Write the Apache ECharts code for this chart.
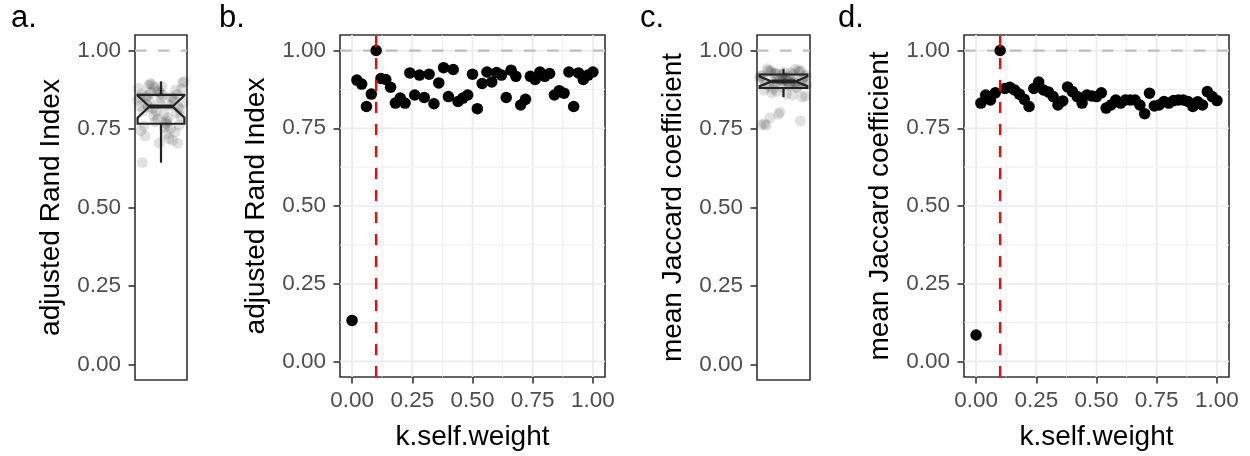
<!DOCTYPE html>
<html>
<head>
<meta charset="utf-8">
<title>k.self.weight sweep</title>
<script src="https://cdn.jsdelivr.net/npm/echarts@6/dist/echarts.min.js"></script>
<style>
  html, body { margin: 0; padding: 0; background: #ffffff; }
  #chart { width: 1250px; height: 456px; }
</style>
</head>
<body>
<div id="chart"></div>
<script>
// ---- data ---------------------------------------------------------------
const kSelfWeight = [
  0.00, 0.02, 0.04, 0.06, 0.08, 0.10, 0.12, 0.14, 0.16, 0.18,
  0.20, 0.22, 0.24, 0.26, 0.28, 0.30, 0.32, 0.34, 0.36, 0.38,
  0.40, 0.42, 0.44, 0.46, 0.48, 0.50, 0.52, 0.54, 0.56, 0.58,
  0.60, 0.62, 0.64, 0.66, 0.68, 0.70, 0.72, 0.74, 0.76, 0.78,
  0.80, 0.82, 0.84, 0.86, 0.88, 0.90, 0.92, 0.94, 0.96, 0.98,
  1.00
];

// adjusted Rand Index for each k.self.weight
const ariByWeight = [
  0.132, 0.905, 0.892, 0.820, 0.860, 1.000, 0.910, 0.907, 0.882, 0.831,
  0.847, 0.831, 0.928, 0.857, 0.921, 0.849, 0.924, 0.829, 0.896, 0.945,
  0.852, 0.939, 0.836, 0.847, 0.857, 0.924, 0.813, 0.894, 0.931, 0.899,
  0.929, 0.921, 0.849, 0.937, 0.917, 0.825, 0.843, 0.917, 0.907, 0.931,
  0.917, 0.926, 0.857, 0.871, 0.863, 0.931, 0.820, 0.928, 0.907, 0.921,
  0.931
];

// mean Jaccard coefficient for each k.self.weight
const jaccardByWeight = [
  0.085, 0.831, 0.857, 0.841, 0.864, 1.000, 0.878, 0.882, 0.873, 0.860,
  0.843, 0.820, 0.878, 0.899, 0.873, 0.867, 0.852, 0.825, 0.838, 0.883,
  0.868, 0.852, 0.831, 0.857, 0.854, 0.852, 0.864, 0.815, 0.825, 0.841,
  0.831, 0.841, 0.841, 0.841, 0.825, 0.797, 0.863, 0.822, 0.825, 0.836,
  0.831, 0.839, 0.841, 0.841, 0.836, 0.820, 0.835, 0.825, 0.868, 0.852,
  0.839
];

// repeated runs summarised in the two box plots
const ariRuns = [
  0.842, 0.776, 0.889, 0.705, 0.831, 0.862, 0.752, 0.815, 0.878, 0.798,
  0.854, 0.740, 0.869, 0.823, 0.786, 0.895, 0.763, 0.848, 0.810, 0.714,
  0.883, 0.835, 0.769, 0.856, 0.802, 0.872, 0.745, 0.826, 0.892, 0.790,
  0.858, 0.728, 0.845, 0.806, 0.880, 0.766, 0.838, 0.819, 0.864, 0.643,
  0.852, 0.794, 0.898, 0.756, 0.829, 0.875, 0.782, 0.850, 0.720, 0.867,
  0.813, 0.886, 0.760, 0.843, 0.773, 0.902, 0.735, 0.821, 0.861, 0.706
];
const jaccardRuns = [
  0.912, 0.889, 0.931, 0.776, 0.903, 0.874, 0.925, 0.896, 0.918, 0.862,
  0.936, 0.884, 0.908, 0.764, 0.929, 0.899, 0.852, 0.915, 0.893, 0.940,
  0.870, 0.922, 0.901, 0.786, 0.933, 0.886, 0.911, 0.858, 0.927, 0.895,
  0.905, 0.942, 0.882, 0.797, 0.919, 0.891, 0.866, 0.935, 0.906, 0.767,
  0.898, 0.928, 0.855, 0.914, 0.888, 0.939, 0.804, 0.920, 0.897, 0.878,
  0.909, 0.932, 0.762, 0.900, 0.926, 0.892, 0.917, 0.937, 0.894, 0.923
];

// box statistics: [lower whisker, Q1, notch low, median, notch high, Q3, upper whisker]
const ariBox = [0.643, 0.767, 0.786, 0.822, 0.857, 0.859, 0.902];
const jaccardBox = [0.852, 0.881, 0.887, 0.902, 0.918, 0.924, 0.942];

// axis breaks
const yTicks = [0, 0.25, 0.5, 0.75, 1];
const xTicks = [0, 0.25, 0.5, 0.75, 1];
const minorBreaks = [0.125, 0.375, 0.625, 0.875];

// reference lines
const perfectScore = 1;
const chosenWeight = 0.1;

// ---- styling --------------------------------------------------------------
const FONT = '"Liberation Sans", Arial, Helvetica, sans-serif';
const GRID_COLOR = '#ebebeb';
const INK = '#333333';

const panels = [
  { left: 135, top: 35, width: 52, height: 345 },
  { left: 340, top: 35, width: 265, height: 345 },
  { left: 757, top: 35, width: 53, height: 345 },
  { left: 964, top: 35, width: 265, height: 345 }
];

const fmt = v => v.toFixed(2);

function yAxisFor(gridIndex, name) {
  return {
    gridIndex, type: 'value', min: -0.05, max: 1.05,
    name, nameLocation: 'middle', nameGap: 70,
    nameTextStyle: { fontSize: 28, color: '#000', fontFamily: FONT },
    axisLine: { show: false, onZero: false },
    axisTick: { show: true, customValues: yTicks, length: 6.5,
                lineStyle: { color: INK, width: 1.6 } },
    axisLabel: { customValues: yTicks, formatter: fmt, color: '#4d4d4d',
                 fontSize: 22.5, margin: 14, fontFamily: FONT },
    splitLine: { show: false }
  };
}

function weightAxis(gridIndex) {
  return {
    gridIndex, type: 'value', min: -0.05, max: 1.05,
    name: 'k.self.weight', nameLocation: 'middle', nameGap: 46,
    nameTextStyle: { fontSize: 28, color: '#000', fontFamily: FONT },
    axisLine: { show: false, onZero: false },
    axisTick: { show: true, customValues: xTicks, length: 6.5,
                lineStyle: { color: INK, width: 1.6 } },
    axisLabel: { customValues: xTicks, formatter: fmt, color: '#4d4d4d',
                 fontSize: 22.5, margin: 12, fontFamily: FONT },
    splitLine: { show: false }
  };
}

function boxPanelAxis(gridIndex) {
  return {
    gridIndex, type: 'value', min: 0.5, max: 1.5,
    axisLine: { show: false, onZero: false }, axisTick: { show: false },
    axisLabel: { show: false }, splitLine: { show: false }
  };
}

// background grid: [value, vertical?, major?]
const gridLineData = [].concat(
  yTicks.map(v => [v, 0, 1]), minorBreaks.map(v => [v, 0, 0]),
  xTicks.map(v => [v, 1, 1]), minorBreaks.map(v => [v, 1, 0])
);

function gridLineSeries(i) {
  return {
    type: 'custom', xAxisIndex: i, yAxisIndex: i, z: 1, silent: true,
    data: gridLineData,
    renderItem(params, api) {
      const v = api.value(0), vertical = api.value(1), major = api.value(2);
      const cs = params.coordSys;
      const style = { stroke: GRID_COLOR, lineWidth: major ? 1.7 : 0.85 };
      if (vertical) {
        const x = api.coord([v, 0])[0];
        return { type: 'line', shape: { x1: x, y1: cs.y, x2: x, y2: cs.y + cs.height }, style };
      }
      const y = api.coord([0, v])[1];
      return { type: 'line', shape: { x1: cs.x, y1: y, x2: cs.x + cs.width, y2: y }, style };
    }
  };
}

function hLineSeries(i) {
  return {
    type: 'custom', xAxisIndex: i, yAxisIndex: i, z: 2, silent: true,
    data: [[perfectScore]],
    renderItem(params, api) {
      const cs = params.coordSys;
      const y = api.coord([0, api.value(0)])[1];
      return { type: 'line', shape: { x1: cs.x, y1: y, x2: cs.x + cs.width, y2: y },
               style: { stroke: '#bfbfbf', lineWidth: 2.3, lineDash: [11.5, 11.5] } };
    }
  };
}

function vLineSeries(i) {
  return {
    type: 'custom', xAxisIndex: i, yAxisIndex: i, z: 5, silent: true,
    data: [[chosenWeight]],
    renderItem(params, api) {
      const cs = params.coordSys;
      const x = api.coord([api.value(0), 0])[0];
      return { type: 'line', shape: { x1: x, y1: cs.y + cs.height, x2: x, y2: cs.y },
               style: { stroke: '#ff0000', lineWidth: 2.4, lineDash: [11, 11] } };
    }
  };
}

function pointSeries(i, values) {
  return {
    type: 'scatter', xAxisIndex: i, yAxisIndex: i, z: 4, silent: true,
    symbolSize: 11.5, itemStyle: { color: '#000000', opacity: 1 },
    data: kSelfWeight.map((k, j) => [k, values[j]])
  };
}

// horizontal spread of the run points around the box centre
const spread = j => (((j * 0.6180339887) % 1) - 0.5) * 0.9;

function jitterSeries(i, values) {
  return {
    type: 'scatter', xAxisIndex: i, yAxisIndex: i, z: 3, silent: true,
    symbolSize: 11, itemStyle: { color: 'rgba(0,0,0,0.15)' },
    data: values.map((v, j) => [1 + spread(j), v])
  };
}

function boxSeries(i, stats) {
  return {
    type: 'custom', xAxisIndex: i, yAxisIndex: i, z: 4, silent: true,
    data: [stats],
    renderItem(params, api) {
      const [lw, q1, nl, md, nu, q3, uw] = [0, 1, 2, 3, 4, 5, 6].map(d => api.value(d));
      const c = 1, hw = 0.45, ind = hw * 0.5;
      const P = (x, y) => api.coord([x, y]);
      const stroke = { stroke: '#222222', lineWidth: 2.2, fill: null };
      const outline = [
        P(c - hw, q3), P(c - hw, nu), P(c - hw + ind, md), P(c - hw, nl), P(c - hw, q1),
        P(c + hw, q1), P(c + hw, nl), P(c + hw - ind, md), P(c + hw, nu), P(c + hw, q3)
      ];
      const a = P(c, q3), b = P(c, uw), e = P(c, q1), f = P(c, lw);
      const m1 = P(c - hw + ind, md), m2 = P(c + hw - ind, md);
      return {
        type: 'group',
        children: [
          { type: 'line', shape: { x1: a[0], y1: a[1], x2: b[0], y2: b[1] }, style: stroke },
          { type: 'line', shape: { x1: e[0], y1: e[1], x2: f[0], y2: f[1] }, style: stroke },
          { type: 'polygon', shape: { points: outline },
            style: { stroke: '#222222', lineWidth: 2.2, fill: 'none', lineJoin: 'miter' } },
          { type: 'line', shape: { x1: m1[0], y1: m1[1], x2: m2[0], y2: m2[1] },
            style: { stroke: '#222222', lineWidth: 4 } }
        ]
      };
    }
  };
}

const panelTag = (text, left) => ({
  text, left, top: 3, padding: 0,
  textStyle: { fontSize: 31, fontWeight: 'normal', color: '#000', fontFamily: FONT }
});

const chart = echarts.init(document.getElementById('chart'), null, { renderer: 'canvas' });
chart.setOption({
  backgroundColor: '#ffffff',
  animation: false,
  title: [panelTag('a.', 11), panelTag('b.', 219), panelTag('c.', 640), panelTag('d.', 838)],
  grid: panels.map(p => Object.assign({ show: true, borderColor: INK, borderWidth: 1.6,
                                        backgroundColor: 'transparent', containLabel: false }, p)),
  xAxis: [boxPanelAxis(0), weightAxis(1), boxPanelAxis(2), weightAxis(3)],
  yAxis: [
    yAxisFor(0, 'adjusted Rand Index'),
    yAxisFor(1, 'adjusted Rand Index'),
    yAxisFor(2, 'mean Jaccard coefficient'),
    yAxisFor(3, 'mean Jaccard coefficient')
  ],
  series: [
    hLineSeries(0), jitterSeries(0, ariRuns), boxSeries(0, ariBox),
    gridLineSeries(1), hLineSeries(1), pointSeries(1, ariByWeight), vLineSeries(1),
    hLineSeries(2), jitterSeries(2, jaccardRuns), boxSeries(2, jaccardBox),
    gridLineSeries(3), hLineSeries(3), pointSeries(3, jaccardByWeight), vLineSeries(3)
  ]
});
</script>
</body>
</html>
